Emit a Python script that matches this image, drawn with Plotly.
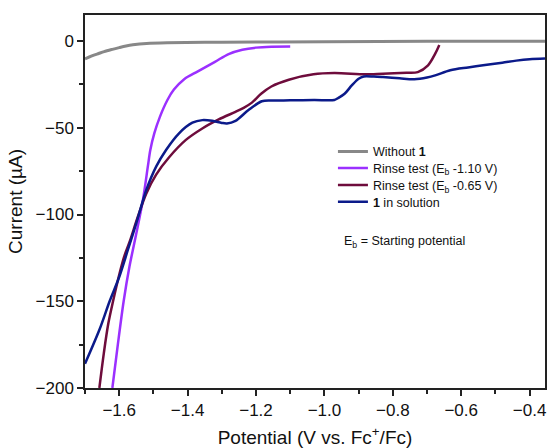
import plotly.graph_objects as go

# ---- data ----
without_v = [-1.700, -1.680, -1.660, -1.644, -1.620, -1.600, -1.580, -1.560, -1.520, -1.460, -1.300, -1.000, -0.700, -0.355]
without_i = [-10.3, -8.6, -7.2, -6.1, -4.8, -3.8, -2.9, -2.2, -1.4, -1.0, -0.7, -0.4, -0.2, -0.1]

rinse110_v = [-1.620, -1.604, -1.587, -1.570, -1.550, -1.531, -1.516, -1.509, -1.497, -1.481, -1.459, -1.440, -1.410, -1.370, -1.320, -1.280, -1.240, -1.200, -1.155, -1.100]
rinse110_i = [-200, -175, -150, -130, -111, -92, -72, -62.8, -53, -43.7, -34, -28, -22, -17.5, -12, -7.5, -5.0, -3.8, -3.3, -3.2]

rinse065_v = [-1.658, -1.645, -1.632, -1.618, -1.599, -1.585, -1.570, -1.545, -1.521, -1.492, -1.454, -1.405, -1.357, -1.309, -1.260, -1.236, -1.212, -1.185, -1.155, -1.104, -1.032, -0.971, -0.880, -0.829, -0.760, -0.727, -0.697, -0.676, -0.664]
rinse065_i = [-200, -180, -163, -150, -134, -124, -116, -101, -88, -77, -67, -57, -50.4, -45.2, -40.8, -38.5, -35.5, -30.4, -26.2, -22.3, -19.2, -18.5, -19.2, -18.8, -18.3, -17.9, -14, -7.3, -2.3]

sol_v = [-1.700, -1.657, -1.628, -1.600, -1.574, -1.550, -1.521, -1.492, -1.463, -1.425, -1.386, -1.357, -1.328, -1.300, -1.285, -1.260, -1.222, -1.183, -1.150, -1.100, -1.030, -0.971, -0.961, -0.941, -0.920, -0.900, -0.885, -0.855, -0.829, -0.780, -0.737, -0.700, -0.676, -0.632, -0.580, -0.536, -0.480, -0.439, -0.400, -0.355]
sol_i = [-186, -166, -150, -136, -120, -105, -86, -72.4, -62.8, -53.2, -47.1, -45.6, -46, -47.2, -47.5, -46, -39.8, -34.7, -34.3, -34.2, -34.0, -34.0, -33, -30.4, -25.6, -21.7, -20.4, -20.5, -20.8, -21.5, -22.0, -21, -19.8, -16.8, -15.2, -14, -12.5, -11.3, -10.5, -10.1]

names = ["Without <b>1</b>",
         "Rinse test (E<sub>b</sub> -1.10 V)",
         "Rinse test (E<sub>b</sub> -0.65 V)",
         "<b>1</b> in solution"]
colors = ["#888888", "#9b30ff", "#6e0c3c", "#0b1a8a"]
widths = [3, 2.5, 2.5, 2.5]

x_ticks = [-1.6, -1.4, -1.2, -1.0, -0.8, -0.6, -0.4]
y_ticks = [-200, -150, -100, -50, 0]

series = [(without_v, without_i), (rinse110_v, rinse110_i), (rinse065_v, rinse065_i), (sol_v, sol_i)]
legend_ids = ["legend", "legend2", "legend3", "legend4"]
legend_y = [0.633, 0.589, 0.543, 0.498]

fig = go.Figure()
for (xv, yv), nm, c, w, lg in zip(series, names, colors, widths, legend_ids):
    fig.add_trace(go.Scatter(x=xv, y=yv, mode="lines", name=nm, legend=lg,
                             line=dict(color=c, width=w, shape="spline", smoothing=0.9)))

FONT = "Liberation Sans, Arial, sans-serif"
axis_common = dict(showline=True, linecolor="#222222", linewidth=1.5, mirror=True,
                   ticks="outside", ticklen=6, tickwidth=1.5, tickcolor="#222222",
                   showgrid=False, zeroline=False,
                   tickfont=dict(family=FONT, size=17, color="#111111"))

fig.update_layout(
    width=550, height=448,
    margin=dict(l=85, r=3, t=15, b=60),
    paper_bgcolor="white", plot_bgcolor="white",
    font=dict(family=FONT, color="#111111"),
    xaxis=dict(range=[-1.7, -0.355], tickvals=x_ticks, tickformat=".1f",
               minor=dict(dtick=0.1, ticks="outside", ticklen=4, tickwidth=1.5, tickcolor="#222222"),
               title=dict(text="Potential (V vs. Fc<sup>+</sup>/Fc)", font=dict(family=FONT, size=19), standoff=12),
               **axis_common),
    yaxis=dict(range=[-200, 15], tickvals=y_ticks,
               minor=dict(dtick=25, ticks="outside", ticklen=4, tickwidth=1.5, tickcolor="#222222"),
               title=dict(text="Current (µA)", font=dict(family=FONT, size=19), standoff=8),
               **axis_common),
    showlegend=True,
)

for lg, yy in zip(legend_ids, legend_y):
    fig.update_layout({lg: dict(x=0.539, y=yy, xanchor="left", yanchor="middle",
                                bgcolor="rgba(0,0,0,0)", borderwidth=0,
                                font=dict(family=FONT, size=12.5, color="#111111"),
                                itemwidth=30)})

fig.add_annotation(text="E<sub>b</sub> = Starting potential", xref="paper", yref="paper",
                   x=0.558, y=0.392, xanchor="left", yanchor="middle", showarrow=False,
                   font=dict(family=FONT, size=12.5, color="#111111"))

fig.write_html("out.html", config={"displayModeBar": False},
               post_script="document.body.style.margin='0px'; document.body.style.overflow='hidden';")
